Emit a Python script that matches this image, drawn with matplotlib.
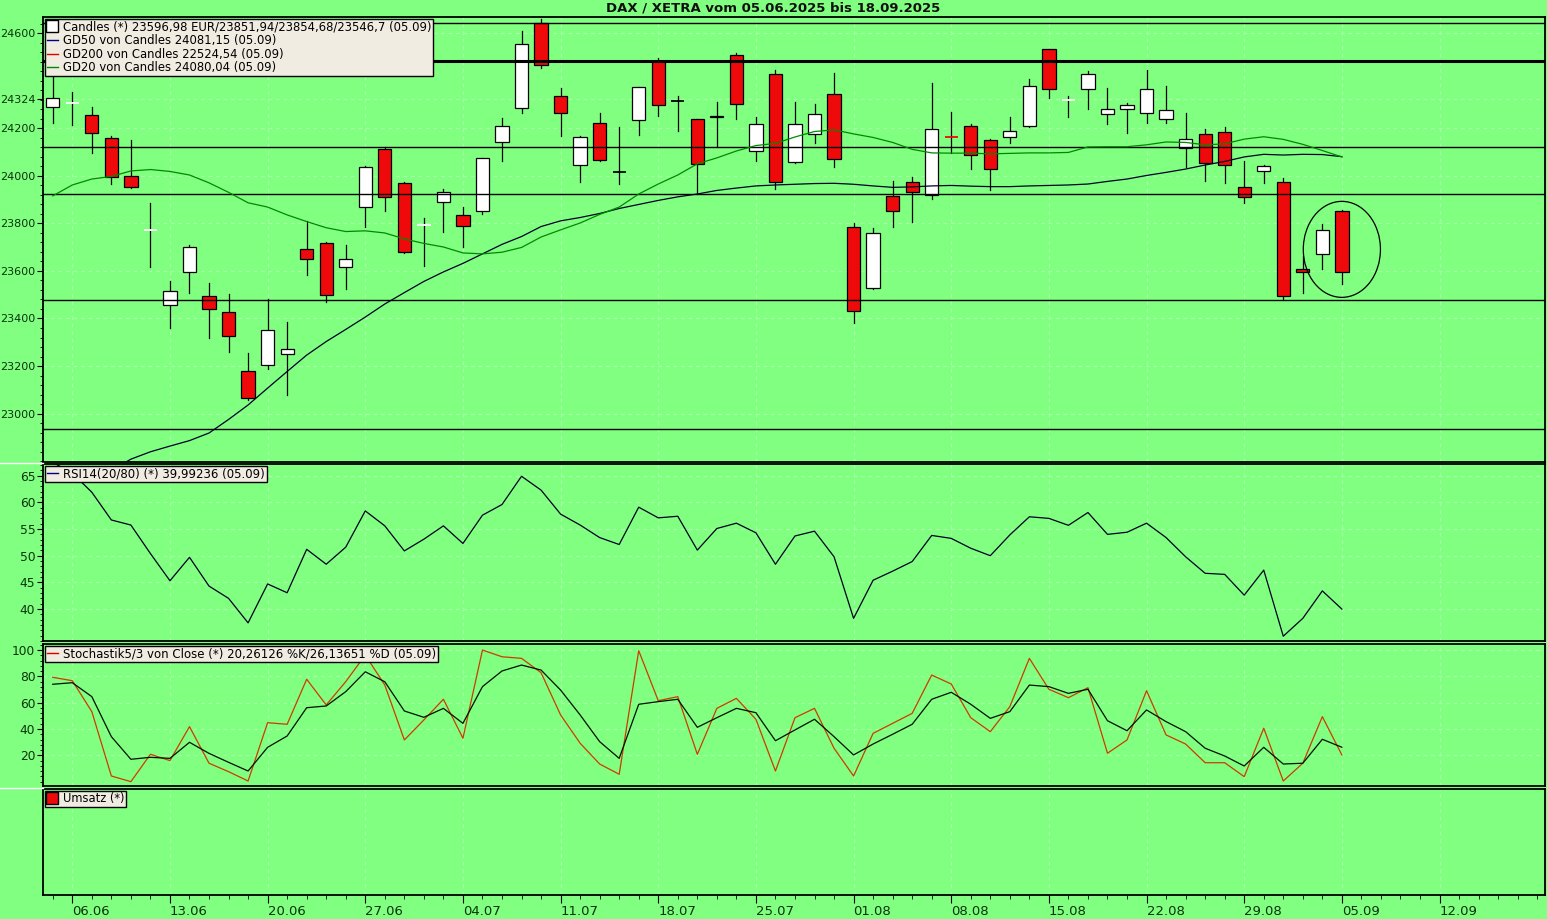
import matplotlib
matplotlib.use('Agg')
import matplotlib.pyplot as plt
from matplotlib.patches import Rectangle, Ellipse
from matplotlib.lines import Line2D
from matplotlib.ticker import FixedLocator, MultipleLocator
import numpy as np

# ---------------- data ----------------
opens  = [24289, 24303, 24255, 24159, 23999, 23771, 23457, 23595, 23496, 23426,
          23179, 23203, 23251, 23691, 23717, 23615, 23871, 24112, 23969, 23790,
          23889, 23834, 23851, 24142, 24285, 24645, 24335, 24045, 24222, 24016,
          24235, 24484, 24316, 24239, 24246, 24508, 24105, 24428, 24058, 24175,
          24344, 23787, 23527, 23914, 23973, 23920, 24167, 24209, 24150, 24163,
          24212, 24533, 24318, 24365, 24260, 24281, 24264, 24239, 24118, 24175,
          24184, 23952, 24020, 23976, 23608, 23670, 23851.94]
highs  = [24425, 24354, 24290, 24168, 24152, 23886, 23558, 23709, 23548, 23503,
          23256, 23482, 23387, 23811, 23720, 23709, 24043, 24123, 23976, 23822,
          23944, 23868, 24076, 24244, 24608, 24660, 24369, 24168, 24264, 24206,
          24373, 24495, 24336, 24241, 24310, 24516, 24250, 24446, 24310, 24303,
          24432, 23801, 23780, 23979, 23995, 24390, 24268, 24218, 24154, 24247,
          24407, 24535, 24337, 24442, 24369, 24306, 24446, 24379, 24264, 24197,
          24205, 24062, 24046, 23990, 23663, 23798, 23854.68]
lows   = [24222, 24215, 24098, 23965, 23951, 23618, 23361, 23506, 23317, 23260,
          23057, 23186, 23078, 23582, 23471, 23523, 23787, 23854, 23675, 23622,
          23763, 23702, 23839, 24064, 24264, 24453, 24170, 23976, 24062, 23968,
          24174, 24254, 24191, 23923, 24123, 24239, 24063, 23945, 24053, 24140,
          24039, 23382, 23523, 23787, 23808, 23902, 24095, 24031, 23942, 24140,
          24208, 24330, 24247, 24283, 24220, 24182, 24224, 24224, 24039, 23980,
          23972, 23885, 23972, 23483, 23509, 23610, 23546.7]
closes = [24327, 24306, 24180, 23995, 23955, 23773, 23517, 23700, 23439, 23325,
          23064, 23352, 23272, 23649, 23501, 23651, 24038, 23913, 23679, 23792,
          23934, 23791, 24074, 24209, 24555, 24466, 24264, 24164, 24066, 24016,
          24373, 24298, 24316, 24049, 24254, 24302, 24220, 23976, 24220, 24262,
          24070, 23430, 23759, 23851, 23931, 24197, 24165, 24087, 24031, 24188,
          24380, 24365, 24320, 24428, 24281, 24298, 24365, 24277, 24154, 24053,
          24045, 23910, 24041, 23493, 23597, 23771, 23596.98]

gd20 = [23916, 23962, 23987, 23998, 24021, 24027, 24019, 24004, 23971, 23931,
        23887, 23869, 23836, 23808, 23782, 23766, 23769, 23760, 23735, 23716,
        23701, 23676, 23672, 23679, 23699, 23743, 23773, 23802, 23838, 23869,
        23924, 23966, 24004, 24051, 24076, 24105, 24128, 24137, 24164, 24187,
        24194, 24177, 24162, 24141, 24112, 24097, 24096, 24096, 24093, 24095,
        24097, 24097, 24099, 24122, 24123, 24123, 24131, 24143, 24141, 24131,
        24135, 24155, 24165, 24154, 24133, 24107, 24080.04]
gd50 = [np.nan, np.nan, np.nan, 22760, 22808, 22839, 22863, 22886, 22918, 22975,
        23036, 23107, 23177, 23246, 23303, 23354, 23406, 23461, 23509, 23556,
        23596, 23632, 23672, 23712, 23745, 23787, 23811, 23825, 23842, 23863,
        23880, 23897, 23912, 23924, 23939, 23949, 23958, 23962, 23965, 23968,
        23969, 23965, 23958, 23952, 23954, 23958, 23960, 23957, 23955, 23955,
        23958, 23960, 23962, 23966, 23977, 23987, 24002, 24015, 24029, 24046,
        24061, 24080, 24091, 24088, 24091, 24090, 24081.15]

rsi = [67.5, 65.5, 61.9, 56.7, 55.75, 50.4, 45.3, 49.7, 44.3, 42.0,
       37.4, 44.7, 43.05, 51.2, 48.4, 51.6, 58.4, 55.6, 50.9, 53.1,
       55.6, 52.3, 57.6, 59.6, 64.9, 62.3, 57.8, 55.75, 53.4, 52.1,
       59.1, 57.1, 57.4, 51.05, 55.1, 56.1, 54.3, 48.4, 53.7, 54.6,
       49.8, 38.25, 45.4, 47.1, 48.9, 53.8, 53.25, 51.4, 50.0, 53.9,
       57.3, 57.0, 55.7, 58.1, 54.0, 54.4, 56.1, 53.4, 49.8, 46.7,
       46.5, 42.6, 47.3, 34.9, 38.25, 43.4, 39.99]

stoch_k = [79.3, 76.7, 53.2, 4.3, 0.0, 20.8, 16.0, 41.8, 14.0, 7.6,
           0.5, 44.8, 43.6, 77.8, 58.3, 76.0, 96.2, 73.4, 31.7, 46.9,
           62.6, 33.0, 100.0, 94.9, 93.7, 82.8, 50.7, 29.2, 13.4, 5.6,
           99.5, 61.5, 64.6, 20.8, 55.7, 63.3, 47.4, 8.1, 48.6, 55.7,
           25.4, 4.3, 36.7, 44.3, 51.9, 81.0, 74.2, 48.6, 38.0, 57.0,
           93.7, 70.2, 63.8, 71.4, 21.6, 31.7, 69.1, 35.5, 28.6, 14.4,
           14.4, 3.8, 40.6, 0.5, 14.0, 49.4, 20.26]
stoch_d = [74.0, 75.2, 64.6, 34.2, 17.0, 18.5, 17.7, 29.9, 21.5, 14.7,
           8.1, 26.1, 34.7, 56.2, 57.5, 68.4, 83.5, 75.9, 53.7, 48.9,
           55.7, 44.3, 72.2, 84.1, 88.6, 84.8, 69.6, 50.7, 30.4, 17.7,
           58.8, 60.8, 62.6, 41.3, 48.6, 55.7, 52.4, 31.1, 39.3, 47.4,
           34.2, 20.3, 28.6, 36.0, 43.6, 62.6, 67.9, 58.8, 48.1, 53.2,
           73.4, 72.2, 67.1, 70.2, 46.3, 38.7, 54.5, 45.6, 38.0, 25.4,
           19.5, 11.9, 26.1, 13.4, 14.0, 32.2, 26.14]

hlines_price = [24644, 24484, 24123, 23923, 23477, 22933]
hline_widths = [1.0, 2.2, 1.0, 1.0, 1.0, 1.0]

price_ticks = [23000, 23200, 23400, 23600, 23800, 24000, 24200, 24324, 24600]
rsi_ticks = [40, 45, 50, 55, 60, 65]
stoch_ticks = [20, 40, 60, 80, 100]

# Fridays (trading-day index) and their labels
date_tick_idx = [1, 6, 11, 16, 21, 26, 31, 36, 41, 46, 51, 56, 61, 66, 71]
date_labels = ['06.06', '13.06', '20.06', '27.06', '04.07', '11.07', '18.07', '25.07',
               '01.08', '08.08', '15.08', '22.08', '29.08', '05.09', '12.09']

title = 'DAX / XETRA vom 05.06.2025 bis 18.09.2025'
legend_price = ['Candles (*) 23596,98 EUR/23851,94/23854,68/23546,7 (05.09)',
                'GD50 von Candles 24081,15 (05.09)',
                'GD200 von Candles 22524,54 (05.09)',
                'GD20 von Candles 24080,04 (05.09)']
legend_rsi = 'RSI14(20/80) (*) 39,99236 (05.09)'
legend_stoch = 'Stochastik5/3 von Close (*) 20,26126 %K/26,13651 %D (05.09)'
legend_vol = 'Umsatz (*)'

# ---------------- styling ----------------
BG = '#80ff80'
GRID = '#a6ffa6'
TXT = '#0b330b'
LEGBG = '#f1ece1'
RED = '#ee0a0a'

W, H = 1547, 919
fig = plt.figure(figsize=(W / 100, H / 100), dpi=100, facecolor=BG)
plt.rcParams['font.family'] = ['DejaVu Sans']

def rect(top, bottom):
    return [43 / W, 1 - bottom / H, 1502 / W, (bottom - top) / H]

ax_p = fig.add_axes(rect(17, 462))
ax_r = fig.add_axes(rect(464, 641))
ax_s = fig.add_axes(rect(644, 786))
ax_v = fig.add_axes(rect(789, 895))
axes = [ax_p, ax_r, ax_s, ax_v]

n = len(closes)
x = np.arange(n)
XMIN, XMAX = -0.5, 76.4

for ax in axes:
    ax.set_facecolor(BG)
    ax.set_xlim(XMIN, XMAX)
    for s in ax.spines.values():
        s.set_linewidth(1.3)
        s.set_color('black')
    ax.xaxis.set_major_locator(FixedLocator(date_tick_idx))
    ax.xaxis.set_minor_locator(MultipleLocator(1))
    ax.grid(True, axis='x', which='major', color=GRID, linestyle=(0, (3, 3)), linewidth=0.9)
    ax.tick_params(axis='y', colors='black', labelcolor=TXT, labelsize=8.8, length=4, width=0.8,
                   direction='out', pad=1.5)
    ax.tick_params(axis='y', which='minor', length=2.5, width=0.6)
    if ax is not ax_v:
        ax.tick_params(axis='x', which='both', bottom=False, labelbottom=False)

# ---------------- price panel ----------------
ax_p.set_ylim(22796, 24669)
ax_p.yaxis.set_major_locator(FixedLocator(price_ticks))
ax_p.yaxis.set_minor_locator(MultipleLocator(40))
ax_p.grid(True, axis='y', which='major', color=GRID, linestyle=(0, (3, 3)), linewidth=0.9)
ax_p.tick_params(axis='y', labelsize=8.0)

bw = 0.68
for i in range(n):
    o, h, l, c = opens[i], highs[i], lows[i], closes[i]
    ax_p.plot([i, i], [l, h], color='black', lw=0.9, zorder=3)
    if abs(c - o) <= 3:
        col = 'white' if c > o else ('black' if c == o else RED)
        ax_p.plot([i - bw / 2, i + bw / 2], [c, c], color=col, lw=1.3, zorder=4,
                  solid_capstyle='butt')
    else:
        fc = 'white' if c > o else RED
        ax_p.add_patch(Rectangle((i - bw / 2, min(o, c)), bw, abs(c - o),
                                 facecolor=fc, edgecolor='black', lw=0.9, zorder=4))

for yv, lw in zip(hlines_price, hline_widths):
    ax_p.axhline(yv, color='black', lw=lw, zorder=5)

ax_p.plot(x, gd50, color='#000028', lw=0.9, zorder=6)
ax_p.plot(x, gd20, color='#008a00', lw=0.9, zorder=6)

ax_p.add_patch(Ellipse((66, 23691), 3.95, 404, facecolor='none', edgecolor='black',
                       lw=0.9, zorder=7))

handles_p = [Line2D([], [], marker='s', markersize=8, markerfacecolor='white',
                    markeredgecolor='black', linestyle='None'),
             Line2D([], [], color='#000080', lw=1),
             Line2D([], [], color='#e00000', lw=1),
             Line2D([], [], color='#008a00', lw=1)]

def make_legend(ax, handles, labels, size):
    lg = ax.legend(handles, labels, loc='upper left', bbox_to_anchor=(0, 1),
                   frameon=True, fancybox=False, framealpha=1, facecolor=LEGBG,
                   edgecolor='black', borderpad=0.15, borderaxespad=0.15,
                   handlelength=1.0, handletextpad=0.4, labelspacing=0.05,
                   prop={'size': size})
    lg.get_frame().set_linewidth(1.0)
    lg.set_zorder(20)
    return lg

make_legend(ax_p, handles_p, legend_price, 8.4)

# ---------------- RSI panel ----------------
ax_r.set_ylim(34.0, 67.2)
ax_r.yaxis.set_major_locator(FixedLocator(rsi_ticks))
ax_r.yaxis.set_minor_locator(MultipleLocator(1))
ax_r.grid(True, axis='y', which='major', color=GRID, linestyle=(0, (3, 3)), linewidth=0.9)
ax_r.plot(x, rsi, color='#000020', lw=0.9, zorder=5)
make_legend(ax_r, [Line2D([], [], color='#000080', lw=1)], [legend_rsi], 8.5)

# ---------------- Stochastic panel ----------------
ax_s.set_ylim(-3.3, 104.6)
ax_s.yaxis.set_major_locator(FixedLocator(stoch_ticks))
ax_s.yaxis.set_minor_locator(MultipleLocator(4))
ax_s.grid(True, axis='y', which='major', color=GRID, linestyle=(0, (3, 3)), linewidth=0.9)
ax_s.plot(x, stoch_k, color='#d03a00', lw=0.9, zorder=5)
ax_s.plot(x, stoch_d, color='#001000', lw=0.9, zorder=6)
make_legend(ax_s, [Line2D([], [], color='#e00000', lw=1)], [legend_stoch], 8.5)

# ---------------- Umsatz panel ----------------
ax_v.set_ylim(0, 1)
ax_v.tick_params(axis='y', left=False, labelleft=False)
ax_v.tick_params(axis='x', which='major', length=6, width=0.8, colors='black',
                 labelcolor=TXT, labelsize=9.5, pad=1)
ax_v.tick_params(axis='x', which='minor', length=3, width=0.6)
ax_v.set_xticklabels(date_labels, ha='left')
make_legend(ax_v, [Line2D([], [], marker='s', markersize=8, markerfacecolor=RED,
                          markeredgecolor='black', linestyle='None')], [legend_vol], 8.3)

# white separator marks on the left margin
for yy in [463, 788]:
    fig.add_artist(Line2D([0, 43 / W], [1 - yy / H, 1 - yy / H], color='white', lw=1,
                          transform=fig.transFigure))

fig.text(0.5, 1 - 8 / H, title, ha='center', va='center', fontsize=9.5,
         fontweight='bold', color='#101010')

fig.savefig('out.png', dpi=100, facecolor=BG)
